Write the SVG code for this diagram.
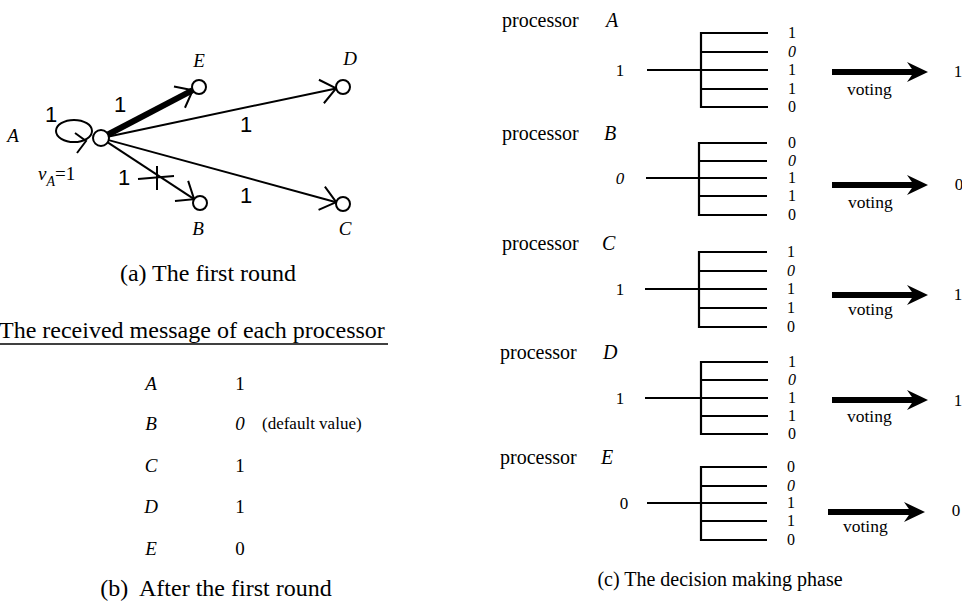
<svg xmlns="http://www.w3.org/2000/svg" width="962" height="611" viewBox="0 0 962 611">
<style>
.serif{font-family:"Liberation Serif","Times New Roman",serif;fill:#000}
.sans{font-family:"Liberation Sans",Arial,sans-serif;fill:#000}
.it{font-style:italic}
.lbl{font-size:19px}
.edge1{font-size:22px;text-anchor:middle}
.cap{font-size:24px}
.proc{font-size:20px}
.val{font-size:16px;text-anchor:middle}
.io{font-size:17px;text-anchor:middle}
.vote{font-size:17.5px}
.ln{stroke:#000;stroke-width:2;fill:none}
.node{stroke:#000;stroke-width:2;fill:#fff}
.br{stroke:#000;stroke-width:2.2;fill:none}
.varrow{stroke:#000;stroke-width:6;fill:none}
</style>
<defs>
<marker id="chev" markerUnits="userSpaceOnUse" orient="auto" refX="0" refY="0" markerWidth="40" markerHeight="40" viewBox="-20 -20 40 40" overflow="visible">
<path d="M-15,-12 L0,0 L-15,12" stroke="#000" stroke-width="2" fill="none"/>
</marker>
<marker id="vhead" markerUnits="userSpaceOnUse" orient="auto" refX="0" refY="0" markerWidth="40" markerHeight="40" viewBox="-20 -20 40 40" overflow="visible">
<path d="M7,0 L-14,-10 L-7,0 L-14,10 Z" fill="#000"/>
</marker>
</defs>

<!-- (a) connectors -->
<g id="connectors-a">
<ellipse cx="74" cy="131" rx="18" ry="11" class="ln"/>
<polyline points="75,133 86,141 77,153" class="ln"/>
<line x1="108" y1="134.5" x2="192.8" y2="90.2" stroke="#000" stroke-width="6"/>
<line x1="186" y1="93.7" x2="192.8" y2="90.2" class="ln" marker-end="url(#chev)"/>
<line x1="108.8" y1="136.4" x2="336.1" y2="88.4" class="ln" marker-end="url(#chev)"/>
<line x1="108.7" y1="140.1" x2="336.2" y2="202.2" class="ln" marker-end="url(#chev)"/>
<line x1="107.7" y1="142.4" x2="194.1" y2="199.2" class="ln" marker-end="url(#chev)"/>
<line x1="138" y1="179" x2="174" y2="176" class="ln"/>
<line x1="157" y1="166" x2="157" y2="190" class="ln"/>
<text class="sans edge1" x="51" y="122">1</text>
<text class="sans edge1" x="120" y="112">1</text>
<text class="sans edge1" x="246" y="132">1</text>
<text class="sans edge1" x="124" y="185">1</text>
<text class="sans edge1" x="246" y="203">1</text>
</g>

<g id="node-A">
<circle cx="101" cy="138" r="8" class="node"/>
<text class="serif it lbl" x="13" y="142" text-anchor="middle">A</text>
<text class="serif lbl" x="38" y="180"><tspan class="it">v</tspan><tspan class="it" font-size="14" dy="6">A</tspan><tspan dy="-6">=1</tspan></text>
</g>
<g id="node-E">
<circle cx="199" cy="87" r="7" class="node"/>
<text class="serif it lbl" x="199" y="67" text-anchor="middle">E</text>
</g>
<g id="node-D">
<circle cx="343" cy="87" r="7" class="node"/>
<text class="serif it lbl" x="350" y="65" text-anchor="middle">D</text>
</g>
<g id="node-B">
<circle cx="200" cy="203" r="7" class="node"/>
<text class="serif it lbl" x="198" y="235" text-anchor="middle">B</text>
</g>
<g id="node-C">
<circle cx="343" cy="204" r="7" class="node"/>
<text class="serif it lbl" x="345" y="235" text-anchor="middle">C</text>
</g>

<text class="serif cap" x="208" y="281" text-anchor="middle">(a) The first round</text>

<!-- (b) -->
<g id="table-b">
<text class="serif cap" x="-1" y="338">The received message of each processor</text>
<line x1="0" y1="344" x2="388" y2="344" stroke="#000" stroke-width="1.5"/>
<g class="serif lbl">
<text class="it" x="151" y="390" text-anchor="middle">A</text>
<text x="240" y="390" text-anchor="middle">1</text>
<text class="it" x="151" y="430" text-anchor="middle">B</text>
<text class="it" x="240" y="430" text-anchor="middle">0</text>
<text x="262" y="429" font-size="17">(default value)</text>
<text class="it" x="151" y="472" text-anchor="middle">C</text>
<text x="240" y="472" text-anchor="middle">1</text>
<text class="it" x="151" y="513" text-anchor="middle">D</text>
<text x="240" y="513" text-anchor="middle">1</text>
<text class="it" x="151" y="555" text-anchor="middle">E</text>
<text x="240" y="555" text-anchor="middle">0</text>
</g>
<text class="serif cap" x="216" y="596" text-anchor="middle" xml:space="preserve">(b)  After the first round</text>
</g>

<!-- (c) -->
<g id="proc-A">
<text class="serif proc" x="502" y="27">processor</text>
<text class="serif proc it" x="606" y="27">A</text>
<path class="br" d="M768,33 H701 V107 H768 M701,52 H768 M647,70 H768 M701,89 H768"/>
<g class="serif val"><text x="792" y="38">1</text><text class="it" x="792" y="57">0</text><text x="792" y="75">1</text><text x="792" y="94">1</text><text x="792" y="112">0</text></g>
<text class="serif io" x="620" y="76">1</text>
<line class="varrow" x1="832" y1="72" x2="921" y2="72" marker-end="url(#vhead)"/>
<text class="serif vote" x="847" y="95">voting</text>
<text class="serif io" x="958" y="77">1</text>
</g>

<g id="proc-B">
<text class="serif proc" x="502" y="140">processor</text>
<text class="serif proc it" x="604" y="140">B</text>
<path class="br" d="M767,143 H699 V215 H767 M699,161 H767 M646,178 H767 M699,196 H767"/>
<g class="serif val"><text x="792" y="148">0</text><text class="it" x="792" y="166">0</text><text x="792" y="183">1</text><text x="792" y="201">1</text><text x="792" y="220">0</text></g>
<text class="serif io it" x="620" y="184">0</text>
<line class="varrow" x1="832" y1="185" x2="921" y2="185" marker-end="url(#vhead)"/>
<text class="serif vote" x="848" y="208">voting</text>
<text class="serif io" x="959" y="190">0</text>
</g>

<g id="proc-C">
<text class="serif proc" x="502" y="250">processor</text>
<text class="serif proc it" x="602" y="250">C</text>
<path class="br" d="M767,252 H699 V327 H767 M699,271 H767 M645,289 H767 M699,308 H767"/>
<g class="serif val"><text x="791" y="257">1</text><text class="it" x="791" y="276">0</text><text x="791" y="294">1</text><text x="791" y="313">1</text><text x="791" y="332">0</text></g>
<text class="serif io" x="620" y="295">1</text>
<line class="varrow" x1="832" y1="295" x2="921" y2="295" marker-end="url(#vhead)"/>
<text class="serif vote" x="848" y="315">voting</text>
<text class="serif io" x="958" y="300">1</text>
</g>

<g id="proc-D">
<text class="serif proc" x="500" y="359">processor</text>
<text class="serif proc it" x="603" y="359">D</text>
<path class="br" d="M768,362 H701 V434 H768 M701,380 H768 M645,398 H768 M701,416 H768"/>
<g class="serif val"><text x="792" y="367">1</text><text class="it" x="792" y="385">0</text><text x="792" y="403">1</text><text x="792" y="421">1</text><text x="792" y="439">0</text></g>
<text class="serif io" x="620" y="404">1</text>
<line class="varrow" x1="832" y1="400" x2="921" y2="400" marker-end="url(#vhead)"/>
<text class="serif vote" x="847" y="422">voting</text>
<text class="serif io" x="958" y="406">1</text>
</g>

<g id="proc-E">
<text class="serif proc" x="500" y="464">processor</text>
<text class="serif proc it" x="601" y="464">E</text>
<path class="br" d="M767,467 H701 V540 H767 M701,486 H767 M647,503 H767 M701,521 H767"/>
<g class="serif val"><text x="791" y="472">0</text><text class="it" x="791" y="491">0</text><text x="791" y="508">1</text><text x="791" y="526">1</text><text x="791" y="545">0</text></g>
<text class="serif io" x="624" y="509">0</text>
<line class="varrow" x1="828" y1="512" x2="918" y2="512" marker-end="url(#vhead)"/>
<text class="serif vote" x="843" y="532">voting</text>
<text class="serif io" x="956" y="516">0</text>
</g>

<text class="serif" font-size="20" x="720" y="586" text-anchor="middle">(c) The decision making phase</text>
</svg>
